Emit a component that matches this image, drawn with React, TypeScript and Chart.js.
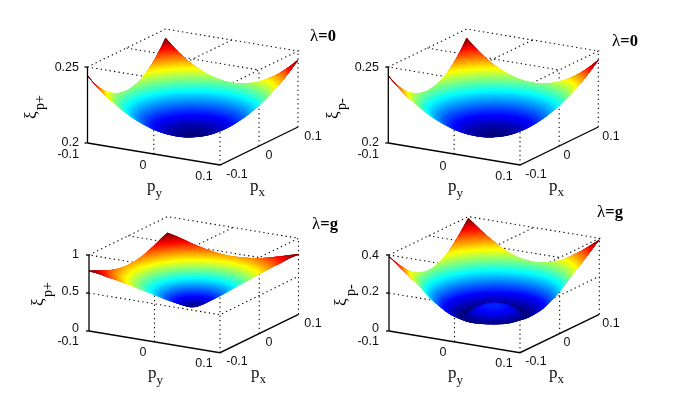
import { useEffect, useRef } from "react";
import { Chart, registerables } from "chart.js";

Chart.register(...registerables);

// radial distance from the centre of the (px, py) square, in units of 0.1
const radii = [0, 0.04, 0.08, 0.12, 0.16, 0.2, 0.24, 0.28, 0.32, 0.36, 0.4, 0.44, 0.48, 0.52, 0.56, 0.6, 0.64, 0.68, 0.72, 0.76, 0.8, 0.84, 0.88, 0.92, 0.96, 1, 1.04, 1.08, 1.12, 1.16, 1.2, 1.24, 1.28, 1.32, 1.36, 1.4, 1.44];

// surface height read along that radius
const xiPlusZero = [0.2, 0.2, 0.2001, 0.2003, 0.2006, 0.2009, 0.2013, 0.2017, 0.2023, 0.2029, 0.2035, 0.2043, 0.2051, 0.206, 0.2069, 0.208, 0.2091, 0.2102, 0.2115, 0.2128, 0.2141, 0.2156, 0.2171, 0.2187, 0.2204, 0.2221, 0.2239, 0.2258, 0.2277, 0.2297, 0.2318, 0.234, 0.2362, 0.2385, 0.2409, 0.2433, 0.2458];
const xiMinusZero = [0.2, 0.2, 0.2001, 0.2003, 0.2006, 0.2009, 0.2013, 0.2017, 0.2023, 0.2029, 0.2035, 0.2043, 0.2051, 0.206, 0.2069, 0.208, 0.2091, 0.2102, 0.2115, 0.2128, 0.2141, 0.2156, 0.2171, 0.2187, 0.2204, 0.2221, 0.2239, 0.2258, 0.2277, 0.2297, 0.2318, 0.234, 0.2362, 0.2385, 0.2409, 0.2433, 0.2458];
const xiPlusG = [0.2, 0.205, 0.215, 0.228, 0.243, 0.259, 0.275, 0.291, 0.308, 0.325, 0.343, 0.362, 0.381, 0.4, 0.42, 0.439, 0.457, 0.475, 0.493, 0.511, 0.529, 0.548, 0.566, 0.584, 0.602, 0.62, 0.638, 0.656, 0.674, 0.692, 0.71, 0.728, 0.745, 0.762, 0.775, 0.785, 0.795];
const xiMinusG = [0.092, 0.092, 0.091, 0.089, 0.086, 0.081, 0.074, 0.065, 0.054, 0.044, 0.036, 0.038, 0.044, 0.052, 0.06, 0.068, 0.078, 0.09, 0.104, 0.118, 0.132, 0.148, 0.164, 0.182, 0.2, 0.22, 0.236, 0.252, 0.268, 0.288, 0.304, 0.32, 0.338, 0.354, 0.372, 0.388, 0.4];

const pTicks = ["-0.1", "0", "0.1"];
const zTicksZero = ["0.2", "0.25"];
const zTicksPlusG = ["0", "0.5", "1"];
const zTicksMinusG = ["0", "0.2", "0.4"];

const SQRT2 = Math.SQRT2;
const THETA_STEP = 3;
const MESH_PER_ROW = 3;
const ROW_OVERLAP = 0.04;

type Pt = [number, number];
type Panel = {
  values: number[];
  zTicks: string[];
  zRange: [number, number];
  A: Pt; B: Pt; C: Pt; H: number;
  frontReach: number;
  fullCircleTo: number;
  lambda: string;
  lambdaAt: Pt;
  xiSub: string;
  xiAt: Pt;
  subAt: Pt;
  zLabelRight: number;
  zLabelY: number[];
  zeroLabelY: number;
  pyLabels: Pt[];
  pxLabels: Pt[];
  pyNameAt: Pt;
  pxNameAt: Pt;
};

const panels: Panel[] = [
  {
    values: xiPlusZero, zTicks: zTicksZero, zRange: [0.2, 0.25],
    A: [87.5, 143], B: [220, 165], C: [298, 127], H: 76, frontReach: 0.16, fullCircleTo: 0,
    lambda: "=0", lambdaAt: [310, 41], xiSub: "p+", xiAt: [36, 119], subAt: [44, 110],
    zLabelRight: 79, zLabelY: [143, 68], zeroLabelY: 155,
    pyLabels: [[143, 166], [204, 177]], pxLabels: [[237, 175], [269, 156], [313, 137]],
    pyNameAt: [147, 191], pxNameAt: [250, 191],
  },
  {
    values: xiMinusZero, zTicks: zTicksZero, zRange: [0.2, 0.25],
    A: [388.3, 143], B: [520, 165], C: [598.3, 127], H: 76, frontReach: 0.16, fullCircleTo: 0,
    lambda: "=0", lambdaAt: [612, 46], xiSub: "p-", xiAt: [338, 119], subAt: [346, 110],
    zLabelRight: 379, zLabelY: [143, 68], zeroLabelY: 155,
    pyLabels: [[443, 167], [504, 177]], pxLabels: [[536, 175], [567, 156], [611, 137]],
    pyNameAt: [448, 191], pxNameAt: [549, 191],
  },
  {
    values: xiPlusG, zTicks: zTicksPlusG, zRange: [0, 1],
    A: [89, 331], B: [220, 352.7], C: [298.5, 314.3], H: 76, frontReach: 0, fullCircleTo: 0,
    lambda: "=g", lambdaAt: [312, 229], xiSub: "p+", xiAt: [43, 306], subAt: [52, 297],
    zLabelRight: 79, zLabelY: [329, 292, 255], zeroLabelY: 342,
    pyLabels: [[143, 353], [204, 364]], pxLabels: [[237, 362], [269, 343], [313, 324]],
    pyNameAt: [148, 378], pxNameAt: [251, 378],
  },
  {
    values: xiMinusG, zTicks: zTicksMinusG, zRange: [0, 0.4],
    A: [389, 331], B: [520, 352.7], C: [599.3, 314.3], H: 76, frontReach: 0.4, fullCircleTo: 0.4,
    lambda: "=g", lambdaAt: [597, 217], xiSub: "p-", xiAt: [346, 306], subAt: [355, 296],
    zLabelRight: 379, zLabelY: [329, 292, 256], zeroLabelY: 342,
    pyLabels: [[443, 353], [504, 364]], pxLabels: [[536, 362], [567, 343], [611, 324]],
    pyNameAt: [448, 378], pxNameAt: [549, 378],
  },
];

function jet(t: number): string {
  const c = Math.max(0, Math.min(1, t));
  const ch = (s: number) => Math.round(255 * Math.max(0, Math.min(1, 1.5 - Math.abs(4 * c - s))));
  return `rgb(${ch(3)},${ch(2)},${ch(1)})`;
}

function project(p: Panel, py: number, px: number, z: number): { x: number; y: number } {
  const u = (py + 1) / 2;
  const v = (px + 1) / 2;
  const w = (z - p.zRange[0]) / (p.zRange[1] - p.zRange[0]);
  return {
    x: p.A[0] + u * (p.B[0] - p.A[0]) + v * (p.C[0] - p.B[0]),
    y: p.A[1] + u * (p.B[1] - p.A[1]) + v * (p.C[1] - p.B[1]) - w * p.H,
  };
}

function heightAt(values: number[], r: number): number {
  const s = Math.min(radii.length - 1.0001, r / radii[1]);
  const i = Math.floor(s);
  return values[i] + (s - i) * (values[i + 1] - values[i]);
}

// polar direction phi is measured from the back corner (py=-0.1, px=0.1)
function ringPoint(p: Panel, r: number, phiDeg: number) {
  const phi = (phiDeg * Math.PI) / 180;
  const ex = (-Math.cos(phi) + Math.sin(phi)) / SQRT2;
  const ey = (Math.cos(phi) + Math.sin(phi)) / SQRT2;
  const rim = 1 / Math.max(Math.abs(ex), Math.abs(ey));
  const rr = Math.min(r, rim);
  return project(p, rr * ex, rr * ey, heightAt(p.values, rr));
}

function spread(p: Panel, r: number): number {
  if (r <= 0 || r <= p.fullCircleTo) return 180;
  const d = p.frontReach * (1 - r / SQRT2);
  const ratio = d / r;
  return ratio >= 1 ? 180 : 90 + (Math.asin(Math.max(0, ratio)) * 180) / Math.PI;
}

function arc(limit: number): number[] {
  const out = [-limit];
  for (let a = Math.ceil(-limit / THETA_STEP + 0.001) * THETA_STEP; a < limit; a += THETA_STEP) out.push(a);
  out.push(limit);
  return out;
}

function surfaceDatasets(p: Panel) {
  const sets: any[] = [];
  const visible = p.values.filter((_, i) => radii[i] <= SQRT2);
  const lo = Math.min(...visible);
  const hi = heightAt(p.values, SQRT2);
  const dr = radii[1] / MESH_PER_ROW;
  const rows = Math.ceil(SQRT2 / dr);
  for (let i = rows - 1; i >= 0; i--) {
    // each row runs on under the next outer one; the next inner row paints over the overlap
    const inner = i * dr;
    const outer = inner + dr + ROW_OVERLAP;
    const data: { x: number; y: number }[] = [];
    for (const a of arc(spread(p, outer))) data.push(ringPoint(p, outer, a));
    for (const a of arc(spread(p, inner)).reverse()) data.push(ringPoint(p, inner, a));
    const shown = i === 0 ? dr / 2 : inner + dr / 2 + ROW_OVERLAP;
    const color = jet((heightAt(p.values, Math.min(SQRT2, shown)) - lo) / (hi - lo));
    sets.push({
      data,
      showLine: true,
      fill: "shape",
      backgroundColor: color,
      borderWidth: 0,
      borderDash: [1, 0],
      pointRadius: 0,
      tension: 0,
    });
    if (inner > 1.1) {
      for (const sign of [-1, 1]) {
        sets.push({
          data: [ringPoint(p, inner, sign * spread(p, inner)), ringPoint(p, outer, sign * spread(p, outer))],
          showLine: true,
          fill: false,
          borderColor: color,
          borderWidth: 1,
          pointRadius: 0,
          tension: 0,
        });
      }
    }
  }
  return sets;
}

function line(data: { x: number; y: number }[], dotted: boolean) {
  return {
    data,
    showLine: true,
    fill: false,
    borderColor: "#000",
    borderWidth: dotted ? 1.1 : 1.3,
    borderDash: dotted ? [1.3, 3.2] : [],
    pointRadius: 0,
    tension: 0,
  };
}

function frameDatasets(p: Panel) {
  const [z0, z1] = p.zRange;
  const grid: any[] = [];
  const zVals = p.zTicks.map(Number);
  for (const z of zVals) {
    if (z === z0 || z === z1) continue;
    grid.push(line([project(p, -1, -1, z), project(p, 1, -1, z), project(p, 1, 1, z)], true));
  }
  grid.push(line([project(p, -1, -1, z1), project(p, -1, 1, z1), project(p, 1, 1, z1), project(p, 1, -1, z1), project(p, -1, -1, z1)], true));
  grid.push(line([project(p, 0, -1, z1), project(p, 0, 1, z1)], true));
  grid.push(line([project(p, -1, 0, z1), project(p, 1, 0, z1)], true));
  grid.push(line([project(p, 0, -1, z0), project(p, 0, -1, z1)], true));
  grid.push(line([project(p, 1, -1, z0), project(p, 1, -1, z1)], true));
  grid.push(line([project(p, 1, 0, z0), project(p, 1, 0, z1)], true));
  grid.push(line([project(p, 1, 1, z0), project(p, 1, 1, z1)], true));
  const axes: any[] = [
    line([project(p, -1, -1, z0), project(p, 1, -1, z0), project(p, 1, 1, z0)], false),
    line([project(p, -1, -1, z0), project(p, -1, -1, z1)], false),
  ];
  for (const z of zVals) {
    const q = project(p, -1, -1, z);
    axes.push(line([q, { x: q.x - 3, y: q.y }], false));
  }
  return { grid, axes };
}

const labelPlugin = {
  id: "panelLabels",
  afterDatasetsDraw(chart: any) {
    const ctx: CanvasRenderingContext2D = chart.ctx;
    ctx.save();
    ctx.textBaseline = "alphabetic";
    for (const p of panels) {
      ctx.fillStyle = "#111";
      ctx.font = '12.5px "Liberation Sans"';
      ctx.textBaseline = "middle";
      ctx.textAlign = "right";
      p.zTicks.forEach((t, i) => ctx.fillText(t, p.zLabelRight, p.zLabelY[i]));
      ctx.fillText(pTicks[0], p.zLabelRight, p.zeroLabelY);
      ctx.textAlign = "center";
      p.pyLabels.forEach((q, i) => ctx.fillText(pTicks[i + 1], q[0], q[1]));
      p.pxLabels.forEach((q, i) => ctx.fillText(pTicks[i], q[0], q[1]));
      ctx.textBaseline = "alphabetic";
      ctx.textAlign = "left";

      ctx.font = '17px "Liberation Serif"';
      ctx.fillText("p", p.pyNameAt[0], p.pyNameAt[1]);
      ctx.fillText("p", p.pxNameAt[0], p.pxNameAt[1]);
      ctx.font = '13px "Liberation Serif"';
      ctx.fillText("y", p.pyNameAt[0] + 8.5, p.pyNameAt[1] + 6);
      ctx.fillText("x", p.pxNameAt[0] + 8.5, p.pxNameAt[1] + 5);

      ctx.fillStyle = "#000";
      ctx.font = '17px "Liberation Serif"';
      ctx.fillText("λ", p.lambdaAt[0], p.lambdaAt[1]);
      const lw = ctx.measureText("λ").width;
      ctx.font = 'bold 16.5px "Liberation Serif"';
      ctx.fillText(p.lambda, p.lambdaAt[0] + lw, p.lambdaAt[1]);

      ctx.save();
      ctx.translate(p.xiAt[0], p.xiAt[1]);
      ctx.rotate(-Math.PI / 2);
      ctx.font = '17px "Liberation Serif"';
      ctx.fillText("ξ", 0, 0);
      ctx.restore();
      ctx.save();
      ctx.translate(p.subAt[0], p.subAt[1]);
      ctx.rotate(-Math.PI / 2);
      ctx.font = '14px "Liberation Serif"';
      ctx.fillText(p.xiSub, 0, 0);
      ctx.restore();
    }
    ctx.restore();
  },
};

export default function App() {
  const ref = useRef<HTMLCanvasElement | null>(null);
  useEffect(() => {
    if (!ref.current) return;
    const painted: any[] = [];
    for (const p of panels) {
      const { grid, axes } = frameDatasets(p);
      painted.push(...grid, ...surfaceDatasets(p), ...axes);
    }
    // Chart.js paints the first dataset last, so hand them over top-first
    const chart = new Chart(ref.current, {
      type: "scatter",
      data: { datasets: painted.reverse() },
      options: {
        animation: false,
        responsive: false,
        layout: { padding: 0 },
        events: [],
        plugins: { legend: { display: false }, tooltip: { enabled: false } },
        scales: {
          x: { type: "linear", min: 0, max: 680, display: false },
          y: { type: "linear", min: 0, max: 395, reverse: true, display: false },
        },
      },
      plugins: [labelPlugin],
    } as any);
    return () => chart.destroy();
  }, []);
  return (
    <div style={{ position: "absolute", left: 0, top: 0, width: 680, height: 395, background: "#fff" }}>
      <canvas ref={ref} width={680} height={395} style={{ display: "block" }} />
    </div>
  );
}
